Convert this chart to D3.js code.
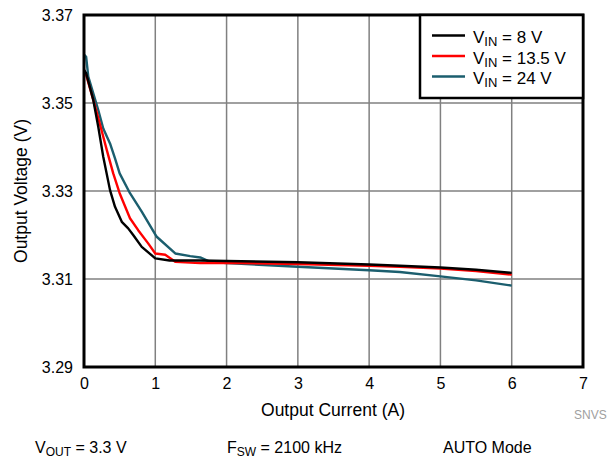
<!DOCTYPE html>
<html><head><meta charset="utf-8">
<script src="https://cdn.jsdelivr.net/npm/d3@7"></script>
<style>body{margin:0;background:#fff}svg{display:block}text{font-family:"Liberation Sans",Arial,sans-serif}</style>
</head><body>
<script>
const xTicks = [0,1,2,3,4,5,6,7];
const yTicks = [3.29,3.31,3.33,3.35,3.37];
const yTickLabels = ["3.29","3.31","3.33","3.35","3.37"];

const current8 = [0,0.03,0.13,0.2,0.27,0.365,0.435,0.53,0.62,0.69,0.81,1.0,1.2,1.63,2,3,4,4.43,5,5.5,6];
const vout8 = [3.3575,3.3568,3.3507,3.3446,3.3378,3.3302,3.3264,3.3230,3.3215,3.3200,3.3173,3.3147,3.3142,3.3142,3.3141,3.3138,3.3133,3.3130,3.3126,3.3121,3.3114];

const current135 = [0,0.03,0.13,0.22,0.32,0.41,0.5,0.645,0.76,0.9,1.0,1.14,1.28,1.63,2,3,4,4.43,5,5.5,6];
const vout135 = [3.3575,3.3564,3.3507,3.3454,3.3393,3.3340,3.3295,3.3238,3.3211,3.3181,3.3158,3.3155,3.3139,3.3136,3.3137,3.3134,3.3130,3.3128,3.3124,3.3118,3.3110];

const current24 = [0,0.03,0.06,0.13,0.2,0.27,0.365,0.435,0.5,0.645,0.81,1.02,1.28,1.49,1.63,1.77,2,3,4,4.43,5,5.5,6];
const vout24 = [3.361,3.3605,3.3560,3.3522,3.3484,3.3442,3.3408,3.3374,3.3340,3.3295,3.3253,3.3196,3.3158,3.3152,3.3149,3.3139,3.3136,3.3128,3.3120,3.3116,3.3106,3.3097,3.3085];

const seriesNames = ["8 V","13.5 V","24 V"];
const seriesColors = ["#000000","#ff0000","#1b5e6e"];

const W=613,H=459;
const m={l:84,r:30,t:15,b:92};
const svg=d3.select("body").append("svg").attr("width",W).attr("height",H);
const x=d3.scaleLinear().domain([0,7]).range([m.l,W-m.r]);
const y=d3.scaleLinear().domain([3.29,3.37]).range([H-m.b,m.t]);

svg.append("g").selectAll("line").data(xTicks.slice(1,-1)).join("line")
 .attr("x1",d=>x(d)).attr("x2",d=>x(d)).attr("y1",y(3.29)).attr("y2",y(3.37))
 .attr("stroke","#808080").attr("stroke-width",1.5);
svg.append("g").selectAll("line").data(yTicks.slice(1,-1)).join("line")
 .attr("x1",x(0)).attr("x2",x(7)).attr("y1",d=>y(d)).attr("y2",d=>y(d))
 .attr("stroke","#808080").attr("stroke-width",1.5);

const xAxis=svg.append("g").attr("transform",`translate(0,${y(3.29)})`)
 .call(d3.axisBottom(x).tickValues(xTicks).tickSize(0).tickPadding(11).tickFormat(d3.format("d")));
const yAxis=svg.append("g").attr("transform",`translate(${x(0)},0)`)
 .call(d3.axisLeft(y).tickValues(yTicks).tickSize(0).tickPadding(11).tickFormat((d,i)=>yTickLabels[i]));
[xAxis,yAxis].forEach(a=>{a.select(".domain").remove();a.selectAll("text").attr("font-size",16).attr("fill","#000").style("font-family","'Liberation Sans',Arial,sans-serif");});
yAxis.selectAll("text").attr("dy","0.36em");

svg.append("clipPath").attr("id","c").append("rect").attr("x",x(0)).attr("y",y(3.37)).attr("width",x(7)-x(0)).attr("height",y(3.29)-y(3.37));

const line=d3.line().x(d=>x(d[0])).y(d=>y(d[1]));
const series=[d3.zip(current8,vout8),d3.zip(current135,vout135),d3.zip(current24,vout24)];
[2,1,0].forEach(i=>{
 svg.append("path").datum(series[i]).attr("d",line).attr("fill","none")
  .attr("stroke",seriesColors[i]).attr("stroke-width",2.4).attr("stroke-linejoin","round").attr("clip-path","url(#c)");
});

svg.append("rect").attr("x",x(0)).attr("y",y(3.37)).attr("width",x(7)-x(0)).attr("height",y(3.29)-y(3.37))
 .attr("fill","none").attr("stroke","#000").attr("stroke-width",3);

const lg=svg.append("g");
lg.append("rect").attr("x",420).attr("y",y(3.37)).attr("width",x(7)-420).attr("height",83)
 .attr("fill","#fff").attr("stroke","#000").attr("stroke-width",2.5);
seriesNames.forEach((n,i)=>{
 const yy=35.5+i*20.5;
 lg.append("line").attr("x1",432).attr("x2",465).attr("y1",yy).attr("y2",yy).attr("stroke",seriesColors[i]).attr("stroke-width",2.4);
 const t=lg.append("text").attr("x",473).attr("y",yy+7.5).attr("font-size",17);
 t.append("tspan").text("V");
 t.append("tspan").attr("font-size",13).attr("dy",3).text("IN");
 t.append("tspan").attr("dy",-3).text(" = "+n);
});

svg.append("text").attr("x",333).attr("y",416).attr("text-anchor","middle").attr("font-size",17.5).text("Output Current (A)");
svg.append("text").attr("transform",`translate(27,${(y(3.29)+y(3.37))/2}) rotate(-90)`).attr("text-anchor","middle").attr("font-size",17.5).text("Output Voltage (V)");
svg.append("text").attr("x",574).attr("y",419).attr("font-size",12).attr("fill","#a0a0a0").text("SNVS");

function sub(xp,main,s,rest){
 const t=svg.append("text").attr("x",xp).attr("y",453).attr("font-size",16);
 t.append("tspan").text(main);
 if(s){t.append("tspan").attr("font-size",12).attr("dy",3).text(s);
 t.append("tspan").attr("dy",-3).text(rest);}
}
sub(35,"V","OUT"," = 3.3 V");
sub(227,"F","SW"," = 2100 kHz");
sub(443,"AUTO Mode");
</script>
</body></html>
